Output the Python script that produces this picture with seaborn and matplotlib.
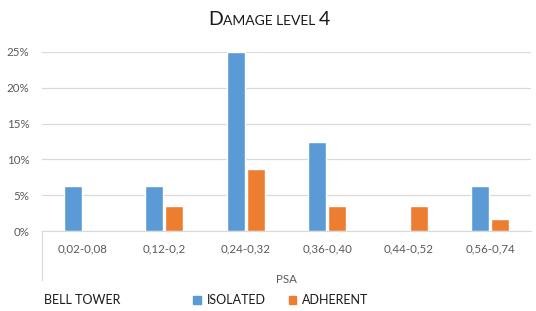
import pandas as pd
import matplotlib
matplotlib.use("Agg")
import matplotlib.pyplot as plt
import seaborn as sns
from matplotlib.patches import Patch
from matplotlib.ticker import PercentFormatter

categories = ["0,02-0,08", "0,12-0,2", "0,24-0,32", "0,36-0,40", "0,44-0,52", "0,56-0,74"]
isolated = [6.25, 6.25, 25.0, 12.5, 0.0, 6.25]
adherent = [0.0, 3.45, 8.6, 3.45, 3.45, 1.72]
series_names = ["ISOLATED", "ADHERENT"]
colors = ["#5B9BD5", "#ED7D31"]

df = pd.DataFrame({
    "PSA": categories * 2,
    "value": isolated + adherent,
    "series": [series_names[0]] * len(categories) + [series_names[1]] * len(categories),
})

sns.set_style("white")
plt.rcParams["font.family"] = ["Lato", "DejaVu Sans"]

fig = plt.figure(figsize=(5.36, 3.11), dpi=100)
ax = fig.add_axes([42 / 536, 80 / 311, 489 / 536, 179 / 311])

sns.barplot(data=df, x="PSA", y="value", hue="series", palette=colors,
            width=0.5, gap=0.12, ax=ax, legend=False, saturation=1)

ax.set_ylim(0, 25)
ax.set_xlim(-0.5, len(categories) - 0.5)
ax.set_yticks([0, 5, 10, 15, 20, 25])
ax.yaxis.set_major_formatter(PercentFormatter(decimals=0))
ax.grid(axis="y", color="#D9D9D9", linewidth=0.9)
ax.set_axisbelow(True)
for s in ["top", "right", "left"]:
    ax.spines[s].set_visible(False)
ax.spines["bottom"].set_color("#D9D9D9")
ax.tick_params(axis="both", length=0, labelsize=8.3, labelcolor="#595959")
ax.tick_params(axis="x", pad=9)
ax.tick_params(axis="y", pad=9)
ax.set_xlabel("PSA", fontsize=8.3, color="#595959", labelpad=14)
ax.set_ylabel("")

# category axis left line extending below
ax.plot([0, 0], [0, -0.275], transform=ax.transAxes, color="#D9D9D9",
        linewidth=0.9, clip_on=False)

# small caps title
renderer = fig.canvas.get_renderer()
pieces = [("D", 14), ("AMAGE LEVEL ", 10), ("4", 14)]
x = 208 / 536
y = 1 - 25 / 311
for txt, size in pieces:
    t = fig.text(x, y, txt, fontsize=size, color="#1a1a1a", ha="left", va="baseline")
    bb = t.get_window_extent(renderer=renderer)
    x += bb.width / fig.bbox.width

fig.text(44 / 536, 1 - 300 / 311, "BELL TOWER", fontsize=9, color="#1a1a1a",
         ha="left", va="center")
handles = [Patch(color=c, label=n) for c, n in zip(colors, series_names)]
fig.legend(handles=handles, loc="center", bbox_to_anchor=(281 / 536, 1 - 300 / 311),
           ncol=2, frameon=False, fontsize=9, handlelength=0.6, handleheight=0.6,
           handletextpad=0.5, columnspacing=1.8, labelcolor="#1a1a1a")

fig.savefig("out.png", dpi=100)
